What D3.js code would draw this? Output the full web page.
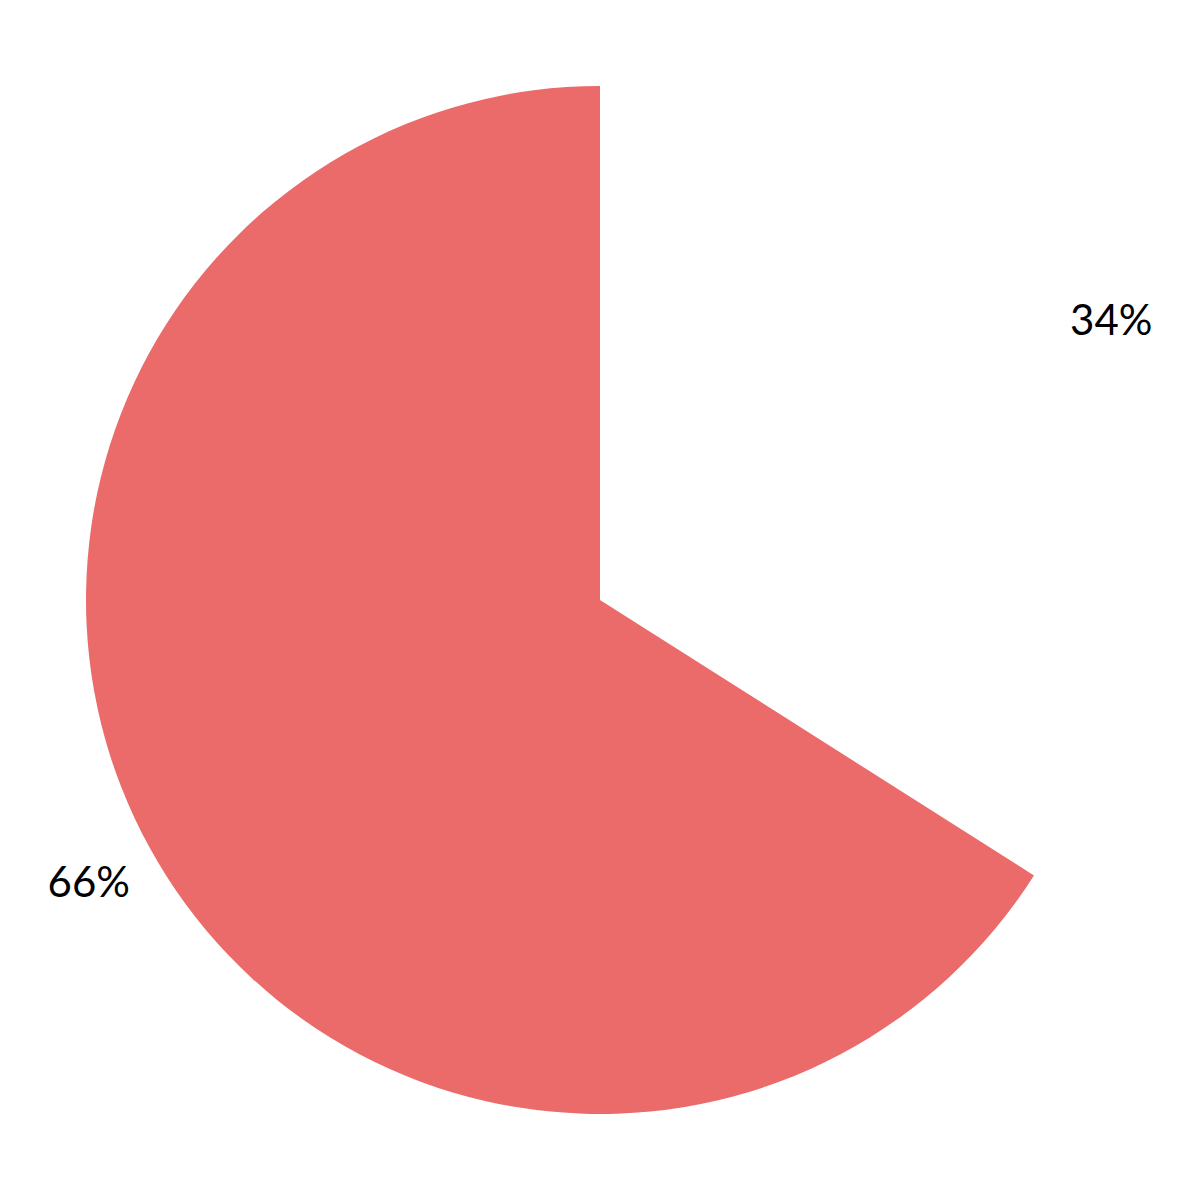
<!DOCTYPE html>
<html>
<head>
<meta charset="utf-8">
<script src="https://cdn.jsdelivr.net/npm/d3@7"></script>
<style>
  html, body { margin: 0; padding: 0; background: #fff; }
</style>
</head>
<body>
<div id="chart"></div>
<script>
// data
var labels = ["A", "B"];
var values = [34, 66];
var colors = ["#ffffff", "#eb6b6b"];

var width = 1200, height = 1200;
var radius = 514;

var svg = d3.select("#chart").append("svg")
    .attr("width", width)
    .attr("height", height);

var g = svg.append("g")
    .attr("transform", "translate(600,600)");

var pie = d3.pie().sort(null).value(function(d) { return d; });
var arcs = pie(values);

var arc = d3.arc().innerRadius(0).outerRadius(radius);
var labelArc = d3.arc().innerRadius(radius * 1.135).outerRadius(radius * 1.135);

var total = d3.sum(values);

g.selectAll("path.slice")
    .data(arcs)
    .enter().append("path")
    .attr("class", "slice")
    .attr("d", arc)
    .attr("fill", function(d, i) { return colors[i]; });

g.selectAll("text.lbl")
    .data(arcs)
    .enter().append("text")
    .attr("class", "lbl")
    .attr("transform", function(d) { return "translate(" + labelArc.centroid(d) + ")"; })
    .attr("text-anchor", "middle")
    .attr("dominant-baseline", "central")
    .style("font-family", "Lato, 'Open Sans', sans-serif")
    .style("font-size", "42px")
    .style("fill", "#000")
    .text(function(d) { return Math.round(d.value / total * 100) + "%"; });
</script>
</body>
</html>
